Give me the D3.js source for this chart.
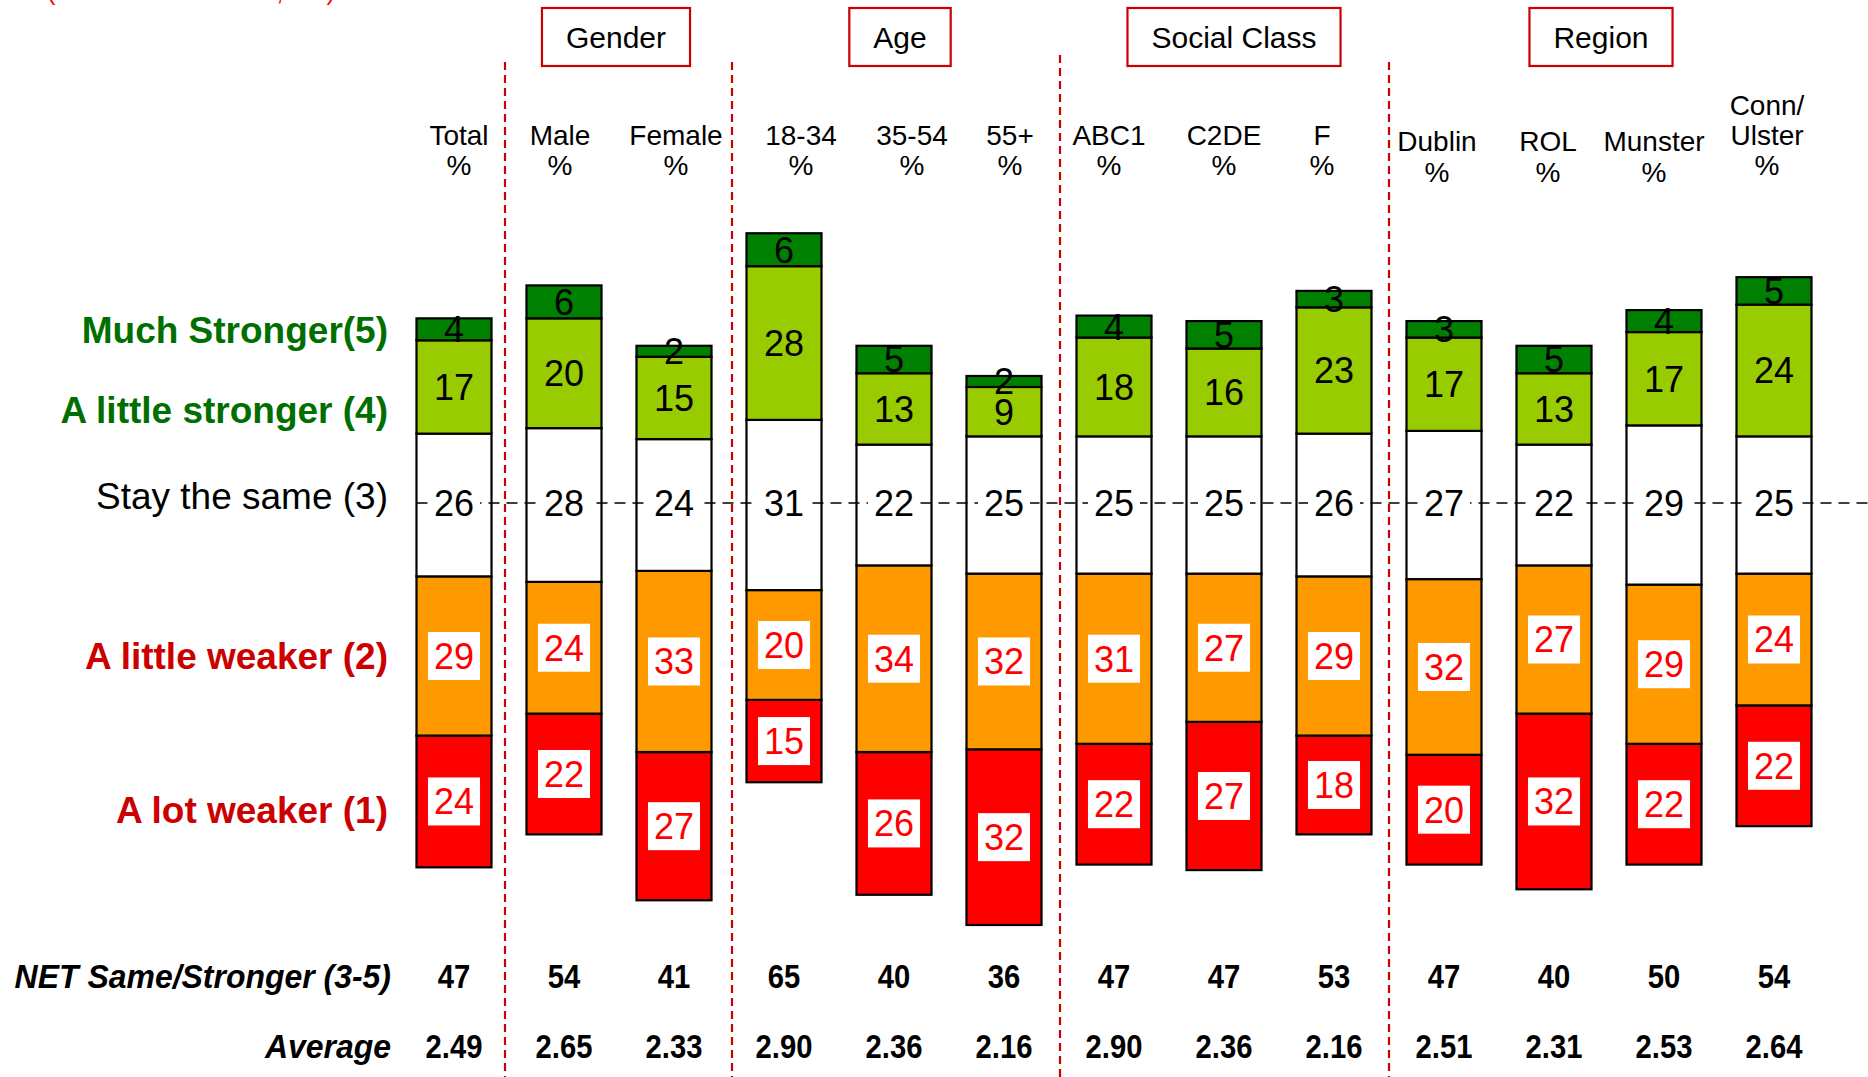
<!DOCTYPE html>
<html><head><meta charset="utf-8">
<script src="https://cdn.jsdelivr.net/npm/d3@7"></script>
<style>
body{margin:0;background:#fff}
svg{display:block}
text{font-family:"Liberation Sans",Arial,Helvetica,sans-serif}
</style>
</head><body>
<svg id="chart" width="1868" height="1077"></svg>
<script>
// ---------------- data ----------------
const categories = ["Total","Male","Female","18-34","35-54","55+","ABC1","C2DE","F","Dublin","ROL","Munster","Conn/Ulster"];
const headerLabels = [["Total","%"],["Male","%"],["Female","%"],["18-34","%"],["35-54","%"],["55+","%"],["ABC1","%"],["C2DE","%"],["F","%"],["Dublin","%"],["ROL","%"],["Munster","%"],["Conn/","Ulster","%"]];
const groupNames = ["Gender","Age","Social Class","Region"];
const groupMembers = [["Male","Female"],["18-34","35-54","55+"],["ABC1","C2DE","F"],["Dublin","ROL","Munster","Conn/Ulster"]];
const seriesNames = ["Much Stronger(5)","A little stronger (4)","Stay the same (3)","A little weaker (2)","A lot weaker (1)"];

const muchStronger   = [4,6,2,6,5,2,4,5,3,3,5,4,5];
const littleStronger = [17,20,15,28,13,9,18,16,23,17,13,17,24];
const staySame       = [26,28,24,31,22,25,25,25,26,27,22,29,25];
const littleWeaker   = [29,24,33,20,34,32,31,27,29,32,27,29,24];
const lotWeaker      = [24,22,27,15,26,32,22,27,18,20,32,22,22];
const netSameStronger = [47,54,41,65,40,36,47,47,53,47,40,50,54];
const averageScore   = ["2.49","2.65","2.33","2.90","2.36","2.16","2.90","2.36","2.16","2.51","2.31","2.53","2.64"];
const baseNote = "(Base: All Adults \u2013 1,000)";

// ---------------- layout ----------------
const W = 1868, H = 1077;
const svg = d3.select("#chart");

const x = d3.scaleBand().domain(categories).range([399, 1829]).paddingInner(0.318).paddingOuter(0.159);
const bw = x.bandwidth();
const cx = c => x(c) + bw / 2;
const y = d3.scaleLinear().domain([-100, 100]).range([505 + 549, 505 - 549]);

// small layout nudges (pixels) matching the hand-placed original
const headerNudge = [5, -4, 2, 17, 18, 6, -5, 0, -12, -7, -6, -10, -7];
const groupNudge = [-3, 6, 10, -8];
const sepNudge = [-4, 3, 1, 0];

const colors = {ms:"#008000", ls:"#99cc00", same:"#ffffff", lw:"#ff9900", lot:"#ff0000"};

// build stacked segments centred on the middle of "stay the same"
const segs = [];
categories.forEach((c, i) => {
  const s = staySame[i], h = s / 2;
  const a = littleStronger[i], m = muchStronger[i], w = littleWeaker[i], l = lotWeaker[i];
  segs.push({c, key:"lot",  v0:-h-w-l, v1:-h-w, val:l, boxed:true,  tc:"#ff0000"});
  segs.push({c, key:"lw",   v0:-h-w,   v1:-h,   val:w, boxed:true,  tc:"#ff0000"});
  segs.push({c, key:"same", v0:-h,     v1:h,    val:s, boxed:true,  tc:"#000000"});
  segs.push({c, key:"ls",   v0:h,      v1:h+a,  val:a, boxed:false, tc:"#000000"});
  segs.push({c, key:"ms",   v0:h+a,    v1:h+a+m,val:m, boxed:false, tc:"#000000"});
});

// base note (cut at the top)
svg.append("text").attr("x", 47).attr("y", 0).attr("font-size", 26).attr("fill", "#ff0000")
  .attr("textLength", 288).attr("lengthAdjust", "spacingAndGlyphs").text(baseNote);

// red dashed group separators
const sepAfter = [0, 2, 5, 8];
const sepTop = [62, 62, 55, 62];
sepAfter.forEach((i, k) => {
  const sx = (x(categories[i]) + bw + x(categories[i + 1])) / 2 + sepNudge[k];
  svg.append("line").attr("x1", sx).attr("x2", sx).attr("y1", sepTop[k]).attr("y2", H)
    .attr("stroke", "#cc0000").attr("stroke-width", 2.2).attr("stroke-dasharray", "8,5");
});

// group header boxes
groupNames.forEach((g, k) => {
  const gx = d3.mean(groupMembers[k], cx) + groupNudge[k];
  const gEl = svg.append("g");
  const t = gEl.append("text").attr("x", gx).attr("y", 37 + 0.36 * 30).attr("font-size", 30)
    .attr("text-anchor", "middle").attr("fill", "#000").text(g);
  const tw = t.node().getComputedTextLength();
  gEl.insert("rect", "text").attr("x", gx - tw / 2 - 24).attr("y", 8).attr("width", tw + 48).attr("height", 58)
    .attr("fill", "#fff").attr("stroke", "#cc0000").attr("stroke-width", 2.2);
});

// column headers
categories.forEach((c, i) => {
  const lines = headerLabels[i];
  const region = groupMembers[3].includes(c) && lines.length === 2;
  const lastY = region ? 172 : 165;
  const step = region ? 31 : 30;
  lines.forEach((ln, j) => {
    const cy = lastY - (lines.length - 1 - j) * step;
    svg.append("text").attr("x", cx(c) + headerNudge[i]).attr("y", cy + 0.36 * 28).attr("font-size", 28)
      .attr("text-anchor", "middle").attr("fill", "#000").text(ln);
  });
});

// row labels
const rowY = [330, 410, 496, 656, 810];
const rowColor = ["#006f00", "#006f00", "#000000", "#cc0000", "#cc0000"];
const rowWeight = ["bold", "bold", "normal", "bold", "bold"];
seriesNames.forEach((s, k) => {
  svg.append("text").attr("x", 388).attr("y", rowY[k] + 0.36 * 37).attr("font-size", 37)
    .attr("font-weight", rowWeight[k]).attr("fill", rowColor[k]).attr("text-anchor", "end").text(s);
});

// bars
svg.append("g").selectAll("rect").data(segs).join("rect")
  .attr("x", d => x(d.c)).attr("width", bw)
  .attr("y", d => y(d.v1)).attr("height", d => y(d.v0) - y(d.v1))
  .attr("fill", d => colors[d.key]).attr("stroke", "#000").attr("stroke-width", 2.2);

// dashed reference line
const refY = y(0) - 2;
svg.append("line").attr("x1", x(categories[0])).attr("x2", W).attr("y1", refY).attr("y2", refY)
  .attr("stroke", "#000").attr("stroke-width", 1.6).attr("stroke-dasharray", "11,7");

// segment labels
const LFS = 36;
const lab = svg.append("g");
segs.forEach(d => {
  const my = d.key === "same" ? y(0) - 2 : y((d.v0 + d.v1) / 2);
  const g = lab.append("g");
  const t = g.append("text").attr("x", cx(d.c)).attr("y", my + 0.36 * LFS).attr("font-size", LFS)
    .attr("text-anchor", "middle").attr("fill", d.tc).text(d.val);
  if (d.boxed) {
    const b = t.node().getBBox();
    g.insert("rect", "text").attr("x", b.x - 6).attr("y", my - 24).attr("width", b.width + 12).attr("height", 48)
      .attr("fill", "#fff");
  }
});

// bottom rows
const bottomRows = [{label:"NET Same/Stronger (3-5)", vals:netSameStronger, cy:976},
                    {label:"Average", vals:averageScore, cy:1046}];
bottomRows.forEach(r => {
  svg.append("text").attr("transform", `translate(391,${r.cy + 0.36 * 34}) scale(0.94,1)`)
    .attr("font-size", 34).attr("font-weight", "bold").attr("font-style", "italic")
    .attr("text-anchor", "end").attr("fill", "#000").text(r.label);
  categories.forEach((c, i) => {
    svg.append("text").attr("transform", `translate(${cx(c)},${r.cy + 0.36 * 34}) scale(0.86,1)`)
      .attr("font-size", 34).attr("font-weight", "bold").attr("text-anchor", "middle")
      .attr("fill", "#000").text(r.vals[i]);
  });
});
</script>
</body></html>
